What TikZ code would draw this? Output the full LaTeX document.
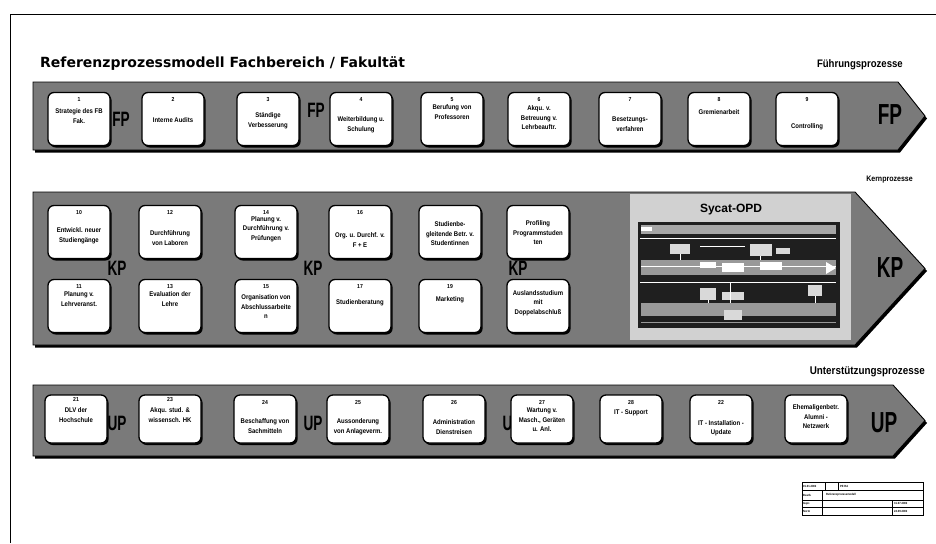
\documentclass[tikz,border=0pt]{standalone}
\usepackage{fontspec}
\usepackage{graphicx}
\setmainfont{Liberation Sans}
\newfontfamily\narrowf[FakeStretch=0.88]{Liberation Sans}
\newfontfamily\titlef{DejaVu Sans}
\usetikzlibrary{shadows,calc}

\tikzset{
  bandfill/.style={fill=black!52, draw=black, line width=0.9pt, line join=miter},
  bandshadow/.style={fill=black},
  pbox/.style={draw=black, line width=1.3pt, fill=white, rounded corners=6pt,
     minimum width=62pt, minimum height=53pt, inner sep=0pt,
     drop shadow={shadow xshift=1.6pt, shadow yshift=-2pt, fill=black, opacity=1}},
  pboxu/.style={pbox, minimum height=48pt},
  pnum/.style={font=\narrowf\bfseries\fontsize{5.8}{6}\selectfont, inner sep=0pt},
  ptext/.style={font=\narrowf\bfseries\fontsize{6.8}{9.5}\selectfont, align=center, inner sep=0pt},
  midlbl/.style={font=\bfseries\fontsize{16}{16}\selectfont, inner sep=0pt},
  tiplbl/.style={font=\bfseries\fontsize{20}{20}\selectfont, inner sep=0pt},
  grouplbl/.style={inner sep=0pt, anchor=east},
  frameline/.style={line width=0.9pt},
  tb/.style={line width=0.5pt},
  tbtext/.style={font=\narrowf\bfseries\fontsize{3}{3}\selectfont, inner sep=0pt, anchor=west},
}

% #1 style, #2 name, #3 x, #4 y, #5 number, #6 text, #7 text offset (down), #8 number offset from top
\newcommand\procboxx[8]{%
  \node[#1] (#2) at (#3,#4) {};
  \if\relax\detokenize{#5}\relax\else
    \node[pnum] (#2n) at ($(#2.north)+(0,#8)$) {#5};
  \fi
  \node[ptext] (#2t) at ($(#2.center)+(0,#7)$) {#6};
}
\newcommand\procbox[7]{\procboxx{#1}{#2}{#3}{#4}{#5}{#6}{#7}{8}}
% #1 top, #2 bottom, #3 x end of rectangle part, #4 tip y
\newcommand\bandpath[4]{(33,#1) -- (#3,#1) -- (925,#4) -- (#3,#2) -- (33,#2) -- cycle}

\begin{document}
\begin{tikzpicture}[x=1pt,y=-1pt]
\useasboundingbox (0,0) rectangle (936,543);
\fill[white] (0,0) rectangle (936,543);

% page frame
\draw[frameline] (10,543) -- (10,14) -- (936,14);

% title
\node[font=\titlef\bfseries\fontsize{14}{14}\selectfont, anchor=west, inner sep=0pt] (title) at (40,64) {Referenzprozessmodell Fachbereich / Fakultät};

% group labels
\node[grouplbl, font=\narrowf\bfseries\fontsize{10.9}{11}\selectfont] (fplabel) at (903,65) {Führungsprozesse};
\node[grouplbl, font=\narrowf\bfseries\fontsize{8}{8}\selectfont] (kplabel) at (913,180) {Kernprozesse};
\node[grouplbl, font=\narrowf\bfseries\fontsize{11.2}{11}\selectfont] (uplabel) at (925,372) {Unterstützungsprozesse};

% ---------- bands ----------
\fill[bandshadow, shift={(2pt,-2.5pt)}] \bandpath{82}{150}{898}{116};
\path[bandfill] \bandpath{82}{150}{898}{116};
\fill[bandshadow, shift={(2pt,-2.5pt)}] \bandpath{192}{345}{855}{268.5};
\path[bandfill] \bandpath{192}{345}{855}{268.5};
\fill[bandshadow, shift={(2pt,-2.5pt)}] \bandpath{385}{456}{893}{420.5};
\path[bandfill] \bandpath{385}{456}{893}{420.5};

% ---------- band labels (behind boxes) ----------
\node[midlbl] (fp1) at (121,119) {\scalebox{0.85}[1.3]{FP}};
\node[midlbl] (fp2) at (316,110) {\scalebox{0.85}[1.3]{FP}};
\node[tiplbl] (fp3) at (890,115) {\scalebox{0.95}[1.45]{FP}};

\node[midlbl] (kp1) at (117,268) {\scalebox{0.85}[1.3]{KP}};
\node[midlbl] (kp2) at (313,268) {\scalebox{0.85}[1.3]{KP}};
\node[midlbl] (kp3) at (518,268) {\scalebox{0.85}[1.3]{KP}};
\node[tiplbl] (kp4) at (890,268) {\scalebox{0.95}[1.45]{KP}};

\node[midlbl] (up1) at (117,423) {\scalebox{0.85}[1.3]{UP}};
\node[midlbl] (up2) at (313,423) {\scalebox{0.85}[1.3]{UP}};
\node[midlbl] (up3) at (512,423) {\scalebox{0.85}[1.3]{UP}};
\node[tiplbl] (up4) at (884,423) {\scalebox{0.95}[1.45]{UP}};

% ---------- Fuehrungsprozesse ----------
\procbox{pbox}{b1}{79}{119}{1}{Strategie des FB\\Fak.}{-3}
\procbox{pbox}{b2}{173}{119}{2}{Interne Audits}{1}
\procbox{pbox}{b3}{268}{119}{3}{Ständige\\Verbesserung}{2}
\procbox{pbox}{b4}{361}{119}{4}{Weiterbildung u.\\Schulung}{6}
\procbox{pbox}{b5}{452}{119}{5}{Berufung von\\Professoren}{-7}
\procbox{pbox}{b6}{539}{119}{6}{Akqu. v.\\Betreuung v.\\Lehrbeauftr.}{-1}
\procbox{pbox}{b7}{630}{119}{7}{Besetzungs-\\verfahren}{5}
\procbox{pbox}{b8}{719}{119}{8}{Gremienarbeit}{-7}
\procbox{pbox}{b9}{807}{119}{9}{Controlling}{8}

% ---------- Kernprozesse ----------
\procbox{pbox}{k10}{79}{232}{10}{Entwickl. neuer\\Studiengänge}{4}
\procbox{pbox}{k12}{170}{232}{12}{Durchführung\\von Laboren}{6}
\procbox{pbox}{k14}{266}{232}{14}{Planung v.\\Durchführung v.\\Prüfungen}{-3}
\procbox{pbox}{k16}{360}{232}{16}{Org. u. Durchf. v.\\F + E}{8}
\procbox{pbox}{k18}{450}{232}{}{Studienbe-\\gleitende Betr. v.\\Studentinnen}{2}
\procbox{pbox}{k20}{538}{232}{}{Profiling\\Programmstuden\\ten}{1}

\procbox{pbox}{k11}{79}{306}{11}{Planung v.\\Lehrveranst.}{-7}
\procbox{pbox}{k13}{170}{306}{13}{Evaluation der\\Lehre}{-7}
\procbox{pbox}{k15}{266}{306}{15}{Organisation von\\Abschlussarbeite\\n}{1}
\procbox{pbox}{k17}{360}{306}{17}{Studienberatung}{-3}
\procbox{pbox}{k19}{450}{306}{19}{Marketing}{-6}
\procbox{pbox}{k21}{538}{306}{}{Auslandsstudium\\mit\\Doppelabschluß}{-3}

% ---------- Sycat-OPD thumbnail ----------
\fill[black!18] (630,194) rectangle (851,340);
\node[font=\bfseries\fontsize{12}{12}\selectfont, inner sep=0pt] (sycat) at (731,210) {Sycat-OPD};
\fill[black!88] (638,222) rectangle (840,328);
\fill[black!35] (641,225) rectangle (836,234);
\fill[white] (641,227) rectangle (652,231);
\draw[white, line width=0.6pt] (640,238) -- (836,238);
\fill[white!85!black] (670,244) rectangle (690,254);
\fill[white!85!black] (750,244) rectangle (772,256);
\fill[white!85!black] (776,248) rectangle (790,254);
\draw[white, line width=0.5pt] (680,254) -- (680,262) (760,256) -- (760,262) (700,246) -- (745,246);
\fill[black!40] (641,260) rectangle (836,275);
\fill[white] (700,262) rectangle (716,268);
\fill[white] (722,263) rectangle (744,272);
\fill[white] (760,262) rectangle (782,270);
\draw[white, line width=0.5pt] (641,266) -- (836,266);
\fill[white] (826,262) -- (836,268) -- (826,274) -- cycle;
\draw[white, line width=0.6pt] (640,282) -- (836,282);
\fill[white!85!black] (700,288) rectangle (716,300);
\fill[white!85!black] (722,292) rectangle (744,300);
\fill[white!85!black] (808,285) rectangle (822,296);
\draw[white, line width=0.5pt] (730,282) -- (730,318) (815,296) -- (815,305) (708,300) -- (708,306);
\fill[black!40] (641,303) rectangle (836,316);
\fill[white!85!black] (724,310) rectangle (742,320);
\draw[black!40, line width=0.5pt] (641,322) -- (836,322);

% ---------- Unterstuetzungsprozesse ----------
\procboxx{pboxu}{u21}{76}{419}{21}{DLV der\\Hochschule}{-4}{5.5}
\procboxx{pboxu}{u23}{170}{419}{23}{Akqu. stud. \&\\wissensch. HK}{-4}{5.5}
\procbox{pboxu}{u24}{265}{419}{24}{Beschaffung von\\Sachmitteln}{7}
\procbox{pboxu}{u25}{358}{419}{25}{Aussonderung\\von Anlageverm.}{8}
\procbox{pboxu}{u26}{454}{419}{26}{Administration\\Dienstreisen}{8}
\procbox{pboxu}{u27}{542}{419}{27}{Wartung v.\\Masch., Geräten\\u. Anl.}{1}
\procbox{pboxu}{u28}{631}{419}{28}{IT - Support}{-6}
\procbox{pboxu}{u22}{721}{419}{22}{IT - Installation -\\Update}{9}
\procbox{pboxu}{u30}{816}{419}{}{Ehemaligenbetr.\\Alumni -\\Netzwerk}{-2}

% ---------- title block ----------
\draw[line width=0.8pt] (802,482) rectangle (923,515);
\draw[tb] (802,490) -- (923,490) (802,500) -- (923,500) (802,507) -- (923,507);
\draw[tb] (825,482) -- (825,490) (838,482) -- (838,490);
\draw[tb] (822,490) -- (822,515) (892,500) -- (892,515);
\node[tbtext] (tb1) at (803,486) {01.01.2002};
\node[tbtext] (tb2) at (840,486) {PE RA};
\node[tbtext] (tb3) at (803,495) {Bearb.};
\node[tbtext] (tb4) at (826,495) {Referenzprozessmodell};
\node[tbtext] (tb5) at (803,503.5) {Gepr.};
\node[tbtext] (tb6) at (894,503.5) {31.07.2002};
\node[tbtext] (tb7) at (803,511) {Norm};
\node[tbtext] (tb8) at (894,511) {24.09.2002};
\end{tikzpicture}
\end{document}
